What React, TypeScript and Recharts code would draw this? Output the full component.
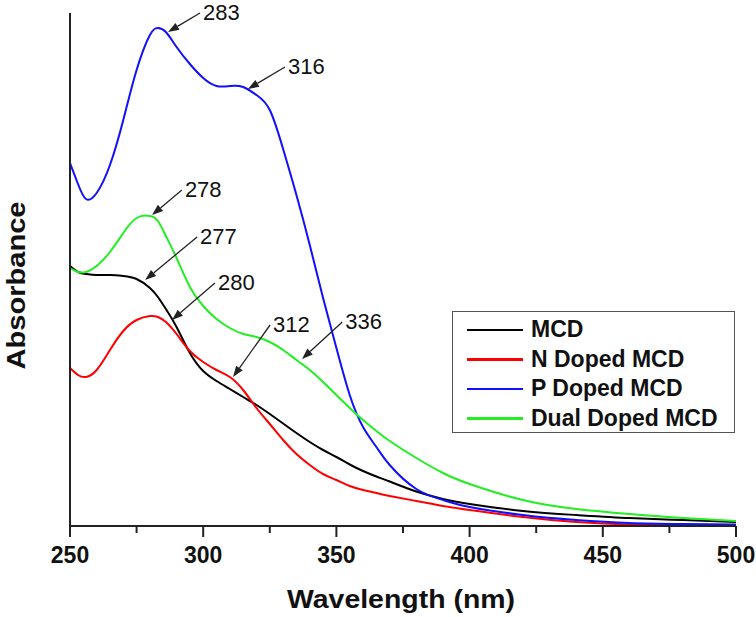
import { Legend, Line, LineChart, ReferenceLine, XAxis, YAxis } from 'recharts'

const wavelengths = [
  250, 253, 256, 260, 265, 270, 275, 280, 283, 286, 290, 295, 300, 305, 310, 315, 320, 325, 330,
  335, 340, 345, 350, 355, 360, 365, 370, 380, 390, 400, 420, 440, 460, 480, 500,
]
const mcd = [
  0.52, 0.508, 0.504, 0.502, 0.502, 0.5, 0.494, 0.476, 0.458, 0.434, 0.398, 0.346, 0.31, 0.29,
  0.274, 0.258, 0.242, 0.224, 0.205, 0.186, 0.168, 0.152, 0.138, 0.123, 0.11, 0.099, 0.089, 0.069,
  0.054, 0.044, 0.03, 0.022, 0.016, 0.012, 0.008,
]
const nDoped = [
  0.316, 0.302, 0.298, 0.312, 0.352, 0.39, 0.412, 0.42, 0.418, 0.408, 0.384, 0.35, 0.328, 0.312,
  0.298, 0.272, 0.236, 0.204, 0.172, 0.144, 0.122, 0.104, 0.092, 0.08, 0.072, 0.066, 0.06, 0.05,
  0.04, 0.032, 0.018, 0.008, 0.003, 0.002, 0.002,
]
const pDoped = [
  0.726, 0.684, 0.654, 0.666, 0.722, 0.812, 0.912, 0.982, 0.996, 0.988, 0.958, 0.924, 0.896, 0.88,
  0.88, 0.878, 0.862, 0.832, 0.754, 0.662, 0.562, 0.456, 0.356, 0.262, 0.198, 0.158, 0.122, 0.074,
  0.052, 0.038, 0.022, 0.012, 0.006, 0.004, 0.003,
]
const dualDoped = [
  0.516, 0.508, 0.508, 0.52, 0.548, 0.586, 0.616, 0.62, 0.61, 0.58, 0.536, 0.478, 0.44, 0.414,
  0.396, 0.384, 0.378, 0.368, 0.352, 0.332, 0.312, 0.288, 0.262, 0.236, 0.212, 0.19, 0.17, 0.136,
  0.106, 0.084, 0.052, 0.034, 0.024, 0.016, 0.01,
]
const xTicks = [250, 275, 300, 325, 350, 375, 400, 425, 450, 475, 500]
const seriesNames = ['MCD', 'N Doped MCD', 'P Doped MCD', 'Dual Doped MCD']

// peak call-outs: label, arrow tip (nm, abs), arrow tail (nm, abs)
const peakLabels = ['283', '316', '278', '277', '280', '312', '336']
const peakTips = [
  [286.8, 0.988],
  [316.8, 0.874],
  [280.8, 0.622],
  [278.2, 0.492],
  [288.3, 0.412],
  [311.2, 0.298],
  [337.1, 0.334],
]
const peakTails = [
  [298.8, 1.026],
  [330.7, 0.918],
  [292.0, 0.672],
  [297.7, 0.578],
  [304.4, 0.486],
  [325.1, 0.402],
  [352.2, 0.408],
]

const data = wavelengths.map((w, i) => ({
  w,
  mcd: mcd[i],
  nDoped: nDoped[i],
  pDoped: pDoped[i],
  dualDoped: dualDoped[i],
}))

const FONT = '"Liberation Sans", Arial, sans-serif'

function WavelengthTick({ x, y, payload }: any) {
  const major = payload.value % 50 === 0
  return (
    <g>
      <line x1={x} y1={y} x2={x} y2={y + (major ? 11 : 7)} stroke="#222" strokeWidth={2} />
      {major && (
        <text
          x={x}
          y={y + 37}
          textAnchor="middle"
          fontSize={23}
          fontWeight="bold"
          fill="#111"
          fontFamily={FONT}
        >
          {payload.value}
        </text>
      )}
    </g>
  )
}

function makeArrow(label: string) {
  return (props: any) => {
    const { x1, y1, x2, y2 } = props
    const ang = Math.atan2(y2 - y1, x2 - x1)
    const len = 11
    const half = 4
    const bx = x2 - len * Math.cos(ang)
    const by = y2 - len * Math.sin(ang)
    const px = -Math.sin(ang) * half
    const py = Math.cos(ang) * half
    return (
      <g>
        <line x1={x1} y1={y1} x2={bx} y2={by} stroke="#222" strokeWidth={1.3} />
        <polygon points={`${x2},${y2} ${bx + px},${by + py} ${bx - px},${by - py}`} fill="#222" />
        <text x={x1 + 3} y={y1 + 7} fontSize={22} fill="#111" fontFamily={FONT}>
          {label}
        </text>
      </g>
    )
  }
}

function LegendBox({ payload }: any) {
  const entries = [...(payload ?? [])].sort(
    (a: any, b: any) => seriesNames.indexOf(a.value) - seriesNames.indexOf(b.value),
  )
  return (
    <div
      style={{
        border: '1.5px solid #555',
        background: '#fff',
        width: 283,
        height: 122,
        boxSizing: 'border-box',
        padding: '3px 0 0 14px',
        fontFamily: FONT,
        fontWeight: 700,
        fontSize: 23,
        color: '#111',
        whiteSpace: 'nowrap',
      }}
    >
      {entries.map((entry: any) => (
        <div key={entry.value} style={{ display: 'flex', alignItems: 'center', height: 29.5 }}>
          <span
            style={{
              display: 'inline-block',
              width: 56,
              height: 2.5,
              background: entry.color,
              marginRight: 8,
            }}
          />
          {entry.value}
        </div>
      ))}
    </div>
  )
}

export default function App() {
  return (
    <div style={{ position: 'absolute', left: 0, top: 0, width: 756, height: 617, background: '#fff' }}>
      <LineChart width={756} height={617} data={data} margin={{ top: 13, right: 20, bottom: 0, left: 0 }}>
        <XAxis
          dataKey="w"
          type="number"
          domain={[250, 500]}
          ticks={xTicks}
          interval={0}
          tick={WavelengthTick}
          tickLine={false}
          tickSize={0}
          tickMargin={0}
          axisLine={{ stroke: '#222', strokeWidth: 2 }}
          height={91}
          label={(props: any) => {
            const vb = props.viewBox ?? { x: 70, y: 526, width: 666, height: 91 }
            return (
              <text
                x={vb.x + vb.width / 2 - 2}
                y={vb.y + 82}
                textAnchor="middle"
                fontSize={26}
                fontWeight="bold"
                fill="#111"
                fontFamily={FONT}
                textLength={228}
                lengthAdjust="spacingAndGlyphs"
              >
                Wavelength (nm)
              </text>
            )
          }}
        />
        <YAxis
          type="number"
          domain={[0, 1.026]}
          tick={false}
          tickLine={false}
          axisLine={{ stroke: '#222', strokeWidth: 2 }}
          width={70}
          label={(props: any) => {
            const vb = props.viewBox ?? { x: 0, y: 13, width: 70, height: 513 }
            const cy = vb.y + vb.height / 2 + 16
            return (
              <text
                x={25}
                y={cy}
                transform={`rotate(-90, 25, ${cy})`}
                textAnchor="middle"
                fontSize={25}
                fontWeight="bold"
                fill="#111"
                fontFamily={FONT}
                textLength={168}
                lengthAdjust="spacingAndGlyphs"
              >
                Absorbance
              </text>
            )
          }}
        />
        <Line type="natural" dataKey="mcd" name="MCD" stroke="#000000" strokeWidth={2} dot={false} isAnimationActive={false} />
        <Line type="natural" dataKey="nDoped" name="N Doped MCD" stroke="#ff0000" strokeWidth={2} dot={false} isAnimationActive={false} />
        <Line type="natural" dataKey="pDoped" name="P Doped MCD" stroke="#1010ff" strokeWidth={2} dot={false} isAnimationActive={false} />
        <Line type="natural" dataKey="dualDoped" name="Dual Doped MCD" stroke="#22ee22" strokeWidth={2} dot={false} isAnimationActive={false} />
        {peakLabels.map((label, i) => (
          <ReferenceLine
            key={label}
            ifOverflow="visible"
            segment={[
              { x: peakTails[i][0], y: peakTails[i][1] },
              { x: peakTips[i][0], y: peakTips[i][1] },
            ]}
            shape={makeArrow(label)}
          />
        ))}
        <Legend
          layout="vertical"
          align="center"
          verticalAlign="middle"
          content={LegendBox}
          wrapperStyle={{ left: 452, top: 311, width: 283, height: 122 }}
        />
      </LineChart>
    </div>
  )
}
